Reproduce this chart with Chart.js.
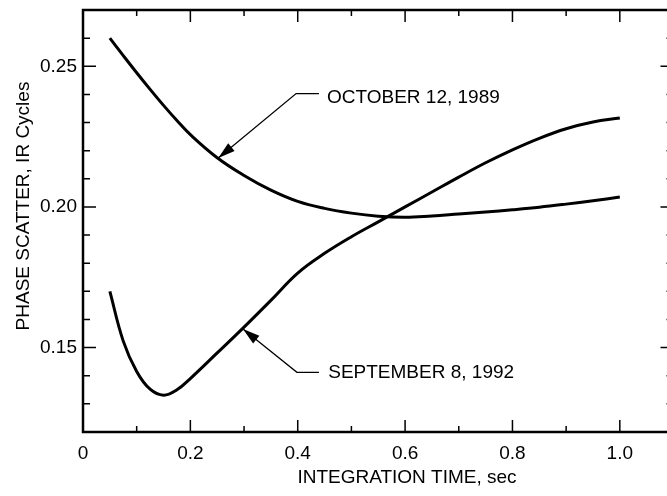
<!DOCTYPE html>
<html>
<head>
<meta charset="utf-8">
<script src="https://cdn.jsdelivr.net/npm/chart.js@4.4.1/dist/chart.umd.min.js"></script>
<style>
  html, body { margin: 0; padding: 0; background: #fff; overflow: hidden; }
  #wrap { width: 667px; height: 496px; overflow: hidden; }
  canvas { display: block; }
</style>
</head>
<body>
<div id="wrap"><canvas id="chart" width="690" height="496"></canvas></div>
<script>
// integration time (sec) and phase scatter (IR cycles)
const integrationTime = [0.05, 0.075, 0.1, 0.125, 0.15, 0.175, 0.2, 0.25, 0.3, 0.35, 0.4, 0.45, 0.5, 0.55, 0.6, 0.65, 0.7, 0.75, 0.8, 0.85, 0.9, 0.95, 1.0];
const october1989 = [0.260, 0.2538, 0.2477, 0.2418, 0.2361, 0.2307, 0.2257, 0.2175, 0.2112, 0.2060, 0.2020, 0.1995, 0.1978, 0.1967, 0.1963, 0.1968, 0.1975, 0.1982, 0.1990, 0.1999, 0.2010, 0.2022, 0.2035];
const september1992 = [0.170, 0.1523, 0.1415, 0.1352, 0.1331, 0.1350, 0.1390, 0.1481, 0.1573, 0.1668, 0.1765, 0.1835, 0.1894, 0.1947, 0.2000, 0.2053, 0.2106, 0.2157, 0.2203, 0.2244, 0.2278, 0.2302, 0.2316];
const seriesNames = ['OCTOBER 12, 1989', 'SEPTEMBER 8, 1992'];

const xTickValues = [0, 0.2, 0.4, 0.6, 0.8, 1.0];
const xTickLabels = ['0', '0.2', '0.4', '0.6', '0.8', '1.0'];
const yTickValues = [0.15, 0.20, 0.25];
const yTickLabels = ['0.15', '0.20', '0.25'];

const FONT = '"Liberation Sans", Arial, Helvetica, sans-serif';
const INK = '#000';

// leader lines: arrow tip on curve -> elbow -> short horizontal -> label (data units)
const callouts = [
  { text: seriesNames[0], tip: [0.252, 0.2174], elbow: [0.397, 0.2403], end: [0.4395, 0.2403], label: [0.4544, 0.2387] },
  { text: seriesNames[1], tip: [0.298, 0.1566], elbow: [0.3985, 0.1412], end: [0.4395, 0.1412], label: [0.4568, 0.1409] },
];

const frame = {
  id: 'frame',
  afterDatasetsDraw(chart) {
    const { ctx, chartArea: a } = chart;
    const x = chart.scales.x, y = chart.scales.y;
    ctx.save();
    ctx.strokeStyle = INK;
    ctx.fillStyle = INK;

    // box
    ctx.lineWidth = 2.5;
    ctx.strokeRect(a.left, a.top, a.right - a.left, a.bottom - a.top);

    // inward tick marks on all four sides
    ctx.lineWidth = 1.5;
    ctx.beginPath();
    for (let i = 1; i <= 10; i++) {
      const px = x.getPixelForValue(i / 10);
      const len = i % 2 === 0 ? 12 : 6;
      ctx.moveTo(px, a.bottom); ctx.lineTo(px, a.bottom - len);
      ctx.moveTo(px, a.top); ctx.lineTo(px, a.top + len);
    }
    for (let i = 13; i <= 26; i++) {
      const py = y.getPixelForValue(i / 100);
      const len = i % 5 === 0 ? 13 : 7;
      ctx.moveTo(a.left, py); ctx.lineTo(a.left + len, py);
      ctx.moveTo(a.right, py); ctx.lineTo(a.right - len, py);
    }
    ctx.stroke();

    // callouts
    ctx.font = '19px ' + FONT;
    ctx.textAlign = 'left';
    ctx.textBaseline = 'middle';
    callouts.forEach(c => {
      const tx = x.getPixelForValue(c.tip[0]), ty = y.getPixelForValue(c.tip[1]);
      const ex = x.getPixelForValue(c.elbow[0]), ey = y.getPixelForValue(c.elbow[1]);
      const hx = x.getPixelForValue(c.end[0]), hy = y.getPixelForValue(c.end[1]);
      ctx.lineWidth = 1.3;
      ctx.beginPath();
      ctx.moveTo(tx, ty); ctx.lineTo(ex, ey); ctx.lineTo(hx, hy);
      ctx.stroke();
      const ang = Math.atan2(ey - ty, ex - tx);
      const L = 17, W = 5;
      const bx = tx + Math.cos(ang) * L, by = ty + Math.sin(ang) * L;
      ctx.beginPath();
      ctx.moveTo(tx, ty);
      ctx.lineTo(bx - Math.sin(ang) * W, by + Math.cos(ang) * W);
      ctx.lineTo(bx + Math.sin(ang) * W, by - Math.cos(ang) * W);
      ctx.closePath();
      ctx.fill();
      ctx.fillText(c.text, x.getPixelForValue(c.label[0]), y.getPixelForValue(c.label[1]));
    });

    // axis titles
    ctx.font = '19px ' + FONT;
    ctx.textAlign = 'center';
    ctx.fillText('INTEGRATION TIME, sec', 407, 478);
    ctx.translate(24, 206);
    ctx.rotate(-Math.PI / 2);
    ctx.fillText('PHASE SCATTER, IR Cycles', 0, 0);
    ctx.restore();
  }
};

const toPoints = ys => integrationTime.map((t, i) => ({ x: t, y: ys[i] }));

new Chart(document.getElementById('chart'), {
  type: 'line',
  data: {
    datasets: [
      { label: seriesNames[0], data: toPoints(october1989), borderColor: INK, borderWidth: 3, pointRadius: 0, tension: 0.4, fill: false },
      { label: seriesNames[1], data: toPoints(september1992), borderColor: INK, borderWidth: 3, pointRadius: 0, tension: 0.4, fill: false },
    ],
  },
  options: {
    responsive: false,
    animation: false,
    layout: { padding: { left: 0, top: 10, right: 16.5, bottom: 0 } },
    plugins: { legend: { display: false }, tooltip: { enabled: false } },
    scales: {
      x: {
        type: 'linear', min: 0, max: 1.1,
        grid: { display: false, drawTicks: false },
        border: { display: false },
        afterBuildTicks: s => { s.ticks = xTickValues.map(v => ({ value: v })); },
        afterFit: s => { s.height = 64; s.paddingLeft = 0; s.paddingRight = 0; },
        ticks: {
          padding: 10, color: INK, maxRotation: 0, autoSkip: false,
          font: { family: FONT, size: 19 },
          callback: (v, i) => xTickLabels[i],
        },
      },
      y: {
        type: 'linear', min: 0.12, max: 0.27,
        grid: { display: false, drawTicks: false },
        border: { display: false },
        afterBuildTicks: s => { s.ticks = yTickValues.map(v => ({ value: v })); },
        afterFit: s => { s.width = 83; s.paddingTop = 0; s.paddingBottom = 0; },
        ticks: {
          padding: 6, color: INK, autoSkip: false,
          font: { family: FONT, size: 19 },
          callback: (v, i) => yTickLabels[i],
        },
      },
    },
  },
  plugins: [frame],
});
</script>
</body>
</html>
